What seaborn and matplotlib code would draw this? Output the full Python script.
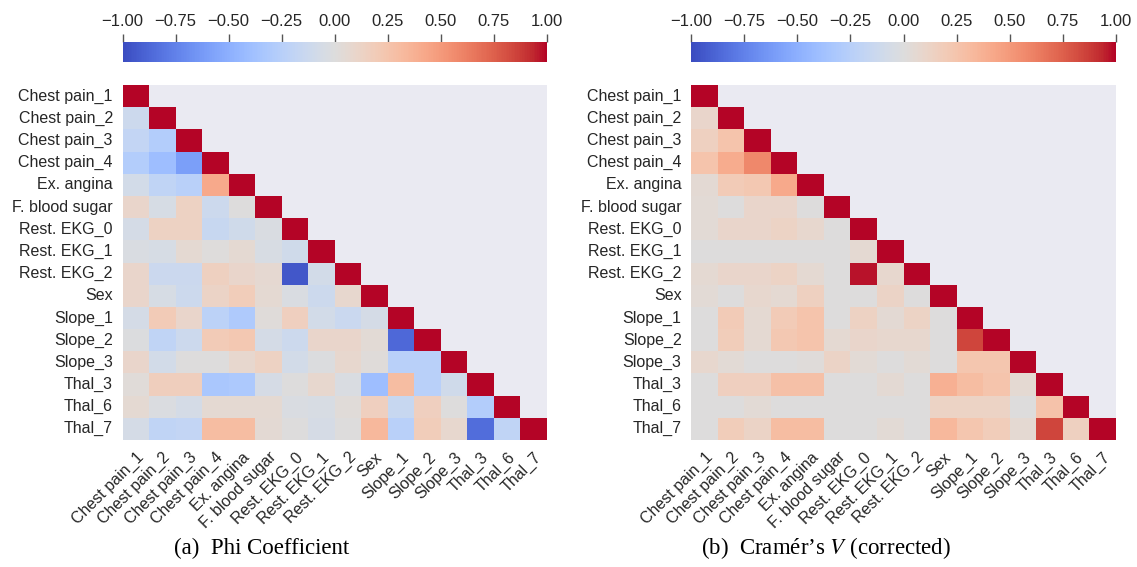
import numpy as np
import pandas as pd
import matplotlib
matplotlib.use("Agg")
import matplotlib.pyplot as plt
import seaborn as sns

labels = ["Chest pain_1", "Chest pain_2", "Chest pain_3", "Chest pain_4",
          "Ex. angina", "F. blood sugar", "Rest. EKG_0", "Rest. EKG_1",
          "Rest. EKG_2", "Sex", "Slope_1", "Slope_2", "Slope_3",
          "Thal_3", "Thal_6", "Thal_7"]

# Lower-triangle rows (row i holds the values against columns 0..i-1)
phi_rows = [
    [],
    [-0.12],
    [-0.18, -0.28],
    [-0.28, -0.40, -0.60],
    [-0.08, -0.20, -0.25, 0.42],
    [0.10, -0.05, 0.14, -0.12, 0.00],
    [-0.07, 0.14, 0.14, -0.15, -0.10, -0.03],
    [-0.03, -0.05, 0.06, 0.01, 0.06, -0.04, -0.10],
    [0.10, -0.13, -0.13, 0.15, 0.10, 0.07, -0.95, -0.08],
    [0.10, -0.05, -0.12, 0.12, 0.18, 0.06, -0.03, -0.12, 0.08],
    [-0.07, 0.20, 0.10, -0.22, -0.30, 0.02, 0.16, -0.08, -0.14, -0.07],
    [-0.01, -0.20, -0.12, 0.20, 0.22, -0.07, -0.12, 0.10, 0.10, 0.04, -0.87],
    [0.10, -0.08, 0.00, 0.00, 0.08, 0.14, -0.08, -0.01, 0.08, 0.02, -0.25, -0.25],
    [0.03, 0.17, 0.17, -0.33, -0.32, -0.06, 0.00, 0.08, -0.03, -0.40, 0.30, -0.25, -0.10],
    [0.06, -0.02, -0.07, 0.06, 0.06, 0.06, -0.03, -0.04, 0.03, 0.16, -0.15, 0.16, 0.00, -0.28],
    [-0.07, -0.20, -0.18, 0.30, 0.30, 0.05, 0.00, -0.06, 0.00, 0.33, -0.25, 0.18, 0.08, -0.85, -0.20],
]

cramer_rows = [
    [],
    [0.10],
    [0.15, 0.25],
    [0.25, 0.40, 0.58],
    [0.05, 0.20, 0.22, 0.42],
    [0.04, 0.00, 0.10, 0.10, 0.00],
    [0.04, 0.10, 0.10, 0.13, 0.08, 0.00],
    [0.00, 0.00, 0.00, 0.00, 0.00, 0.00, 0.06],
    [0.06, 0.10, 0.10, 0.13, 0.06, 0.00, 0.97, 0.08],
    [0.04, 0.00, 0.08, 0.06, 0.15, 0.00, 0.00, 0.12, 0.00],
    [0.00, 0.20, 0.06, 0.20, 0.25, 0.00, 0.14, 0.05, 0.13, 0.00],
    [0.00, 0.18, 0.06, 0.22, 0.25, 0.06, 0.10, 0.08, 0.08, 0.00, 0.85],
    [0.08, 0.04, 0.00, 0.00, 0.02, 0.12, 0.04, 0.00, 0.04, 0.00, 0.24, 0.24],
    [0.00, 0.16, 0.16, 0.28, 0.28, 0.00, 0.00, 0.05, 0.00, 0.38, 0.30, 0.25, 0.06],
    [0.00, 0.00, 0.04, 0.00, 0.00, 0.00, 0.00, 0.00, 0.00, 0.13, 0.13, 0.13, 0.00, 0.26],
    [0.00, 0.18, 0.12, 0.30, 0.30, 0.00, 0.00, 0.04, 0.00, 0.33, 0.24, 0.18, 0.06, 0.85, 0.15],
]

cbar_ticks = [-1.0, -0.75, -0.5, -0.25, 0.0, 0.25, 0.5, 0.75, 1.0]
captions = ["(a)  Phi Coefficient", "(b)  Cramér’s $V$ (corrected)"]


def to_frame(rows):
    n = len(labels)
    m = np.eye(n)
    for i, row in enumerate(rows):
        for j, v in enumerate(row):
            m[i, j] = v
            m[j, i] = v
    return pd.DataFrame(m, index=labels, columns=labels)


sns.set_theme(style="dark")
plt.rcParams["font.family"] = ["Liberation Sans", "DejaVu Sans"]
plt.rcParams["mathtext.fontset"] = "stix"

W, H = 1137, 567
fig = plt.figure(figsize=(W / 100, H / 100), dpi=100)

panels = [
    (to_frame(phi_rows), 122.5, 262),
    (to_frame(cramer_rows), 691.3, 826),
]
mask = np.triu(np.ones((len(labels), len(labels)), dtype=bool), k=1)

for k, (df, x0, cap_x) in enumerate(panels):
    hm_w = 424.5
    ax = fig.add_axes([x0 / W, 1 - 440 / H, hm_w / W, 355 / H])
    cax = fig.add_axes([x0 / W, 1 - 62 / H, hm_w / W, 20 / H])
    sns.heatmap(df, mask=mask, cmap="coolwarm", vmin=-1, vmax=1, ax=ax,
                cbar_ax=cax, cbar_kws={"orientation": "horizontal",
                                       "ticks": cbar_ticks},
                xticklabels=True, yticklabels=True)
    ax.set_facecolor("#EAEAF2")
    ax.tick_params(axis="both", length=0, labelsize=11.5, pad=7,
                   colors="#262626")
    plt.setp(ax.get_xticklabels(), rotation=45, ha="right",
             rotation_mode="anchor")
    plt.setp(ax.get_yticklabels(), rotation=0)

    cax.xaxis.set_ticks_position("top")
    cax.xaxis.set_label_position("top")
    cax.set_xticks(cbar_ticks)
    cax.set_xticklabels([f"{t:.2f}".replace("-", "\u2212") for t in cbar_ticks])
    cax.tick_params(axis="x", length=6, width=1, color="#555555",
                    labelsize=12, pad=3, colors="#262626")

    fig.text(cap_x / W, 1 - 548 / H, captions[k], ha="center", va="center",
             fontsize=16.5, family=["Liberation Serif", "DejaVu Serif"],
             color="black")

fig.savefig("out.png", dpi=100)
